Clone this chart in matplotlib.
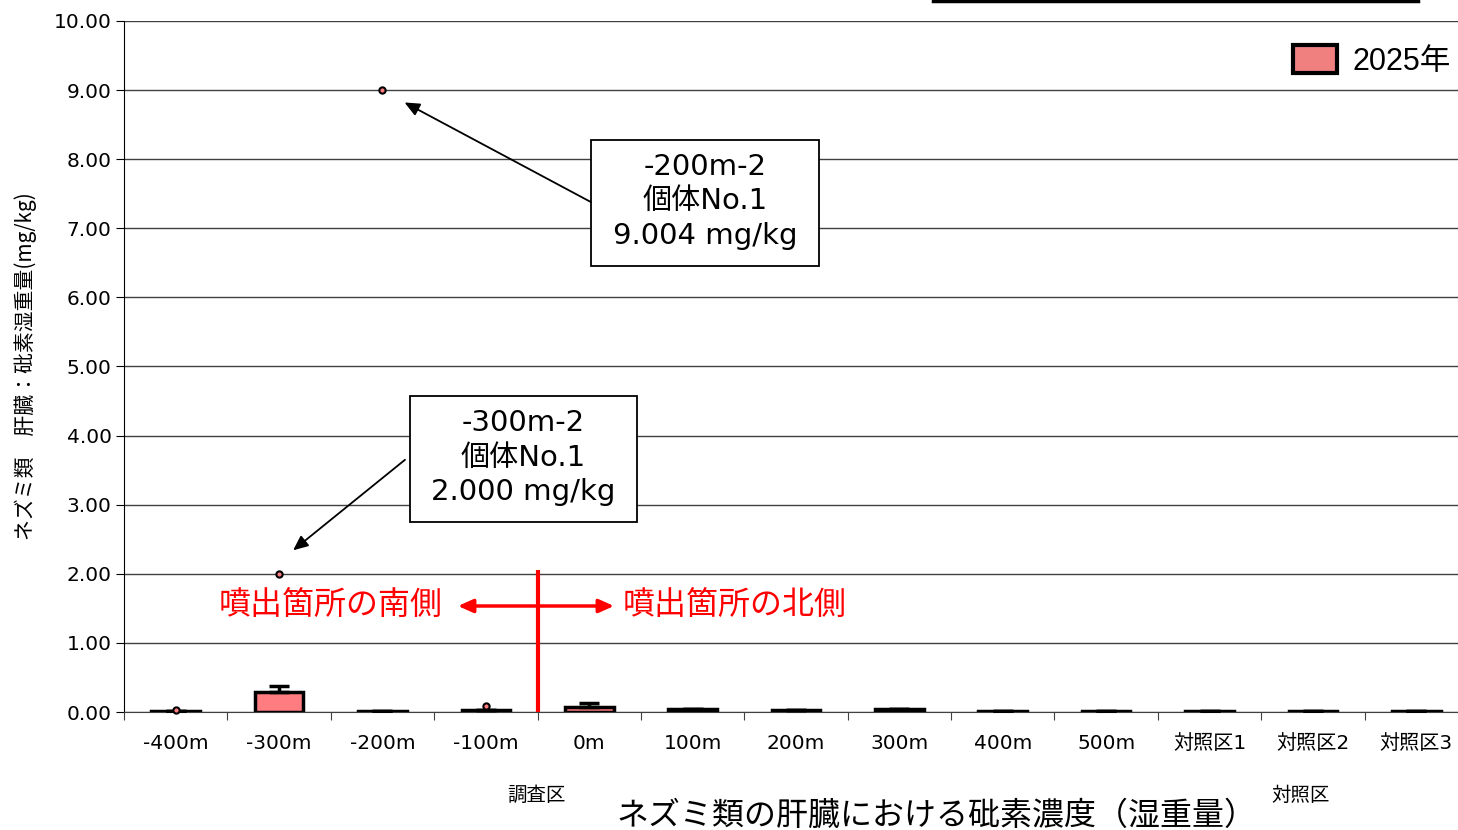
import matplotlib
matplotlib.use("Agg")
import matplotlib.pyplot as plt
from matplotlib.patches import Patch, Rectangle
from matplotlib.lines import Line2D

JP = ['Noto Sans CJK JP', 'DejaVu Sans']
NUM = ['DejaVu Sans', 'Noto Sans CJK JP']
LEG = ['Liberation Sans', 'Noto Sans CJK JP']

categories = ['-400m', '-300m', '-200m', '-100m', '0m', '100m', '200m', '300m',
              '400m', '500m', '対照区1', '対照区2', '対照区3']
means = [0.012, 0.29, 0.015, 0.03, 0.07, 0.04, 0.025, 0.04, 0.015, 0.01, 0.01, 0.015, 0.01]
err_upper = [0.0, 0.08, 0.0, 0.0, 0.06, 0.01, 0.0, 0.01, 0.0, 0.0, 0.0, 0.0, 0.0]
outlier_idx = [0, 1, 2, 3]
outlier_val = [0.025, 2.000, 9.004, 0.085]
yticks = [0, 1, 2, 3, 4, 5, 6, 7, 8, 9, 10]

fig = plt.figure(figsize=(14.58, 8.30), dpi=100)
ax = fig.add_axes([124/1458, 118/830, 1344/1458, 691/830])

x = list(range(len(categories)))
ax.set_axisbelow(True)
ax.grid(axis='y', color='#404040', linewidth=1.0)
ax.bar(x, means, width=0.47, color='#FF7C80', edgecolor='black', linewidth=2.5, zorder=3)
ax.errorbar(x, means, yerr=[[0]*len(means), err_upper], fmt='none', ecolor='black',
            elinewidth=2.5, capsize=7, capthick=2.5, zorder=4)
ax.plot(outlier_idx, outlier_val, 'o', ms=4.5, mfc='#FF7C80', mec='black', mew=1.5, zorder=5, clip_on=False)

ax.set_xlim(-0.5, len(categories) - 0.5)
ax.set_ylim(0, 10)
ax.set_yticks(yticks)
ax.set_yticklabels([f'{v:.2f}' for v in yticks], fontsize=14.5, family=NUM)
ax.set_xticks([i + 0.5 for i in range(-1, len(categories))])
ax.set_xticklabels([])
ax.tick_params(axis='x', length=6, direction='out', color='#404040')
ax.tick_params(axis='y', length=6, direction='out', pad=3)
for i, c in enumerate(categories):
    ax.text(i, -0.45, c, ha='center', va='center', fontsize=14.5, family=NUM)
for s in ['top', 'right']:
    ax.spines[s].set_visible(False)
ax.spines['bottom'].set_color('#404040')
ax.spines['left'].set_color('black')

ax.set_ylabel('ネズミ類　肝臓：砒素湿重量(mg/kg)', fontsize=15, family=JP, labelpad=12)

# Annotation boxes
for (x0, y0, x1, y1) in [(4.016, 6.454, 6.222, 8.278), (2.266, 2.750, 4.461, 4.573)]:
    ax.add_patch(Rectangle((x0, y0), x1 - x0, y1 - y0, fc='white', ec='black', lw=1.3, zorder=6))
ax.text(5.12, 7.39, '-200m-2\n個体No.1\n9.004 mg/kg', ha='center', va='center',
        fontsize=21, family=NUM, linespacing=1.3, zorder=7)
ax.text(3.364, 3.68, '-300m-2\n個体No.1\n2.000 mg/kg', ha='center', va='center',
        fontsize=21, family=NUM, linespacing=1.3, zorder=7)
ap = dict(arrowstyle='-|>,head_length=0.9,head_width=0.4', color='black', lw=1.3,
          shrinkA=0, shrinkB=2)
ax.annotate('', xy=(2.19, 8.84), xytext=(4.016, 7.38), arrowprops=ap, zorder=6)
ax.annotate('', xy=(1.115, 2.315), xytext=(2.218, 3.65), arrowprops=ap, zorder=6)

# red divider
ax.plot([3.5, 3.5], [0, 2.06], color='red', lw=3, zorder=6, solid_capstyle='butt')
rap = dict(arrowstyle='-|>,head_length=0.9,head_width=0.4', color='red', lw=2.5, shrinkA=0, shrinkB=0)
ax.annotate('', xy=(2.73, 1.534), xytext=(3.5, 1.534), arrowprops=rap, zorder=6)
ax.annotate('', xy=(4.24, 1.534), xytext=(3.5, 1.534), arrowprops=rap, zorder=6)
ax.text(2.585, 1.534, '噴出箇所の南側', color='red', ha='right', va='center', fontsize=23, family=JP)
ax.text(4.326, 1.534, '噴出箇所の北側', color='red', ha='left', va='center', fontsize=23, family=JP)

# legend
fig.legend(handles=[Patch(facecolor='#F08080', edgecolor='black', linewidth=3, label='2025年')],
           loc='center left', bbox_to_anchor=(1293/1458, 1 - 61/830), frameon=False,
           prop={'family': LEG, 'size': 22}, handlelength=1.45, handleheight=1.0, handletextpad=0.5,
           borderaxespad=0, borderpad=0)

# clipped line at top
fig.add_artist(Line2D([933/1458, 1418/1458], [829/830, 829/830], color='black', lw=2.5))

fig.text(537/1458, 1 - 795/830, '調査区', ha='center', va='center', fontsize=14, family=JP)
fig.text(1301/1458, 1 - 795/830, '対照区', ha='center', va='center', fontsize=14, family=JP)
fig.text(937/1458, 1 - 816/830, 'ネズミ類の肝臓における砒素濃度（湿重量）', ha='center', va='center',
         fontsize=23, family=JP)

fig.savefig('out.png', dpi=100)
